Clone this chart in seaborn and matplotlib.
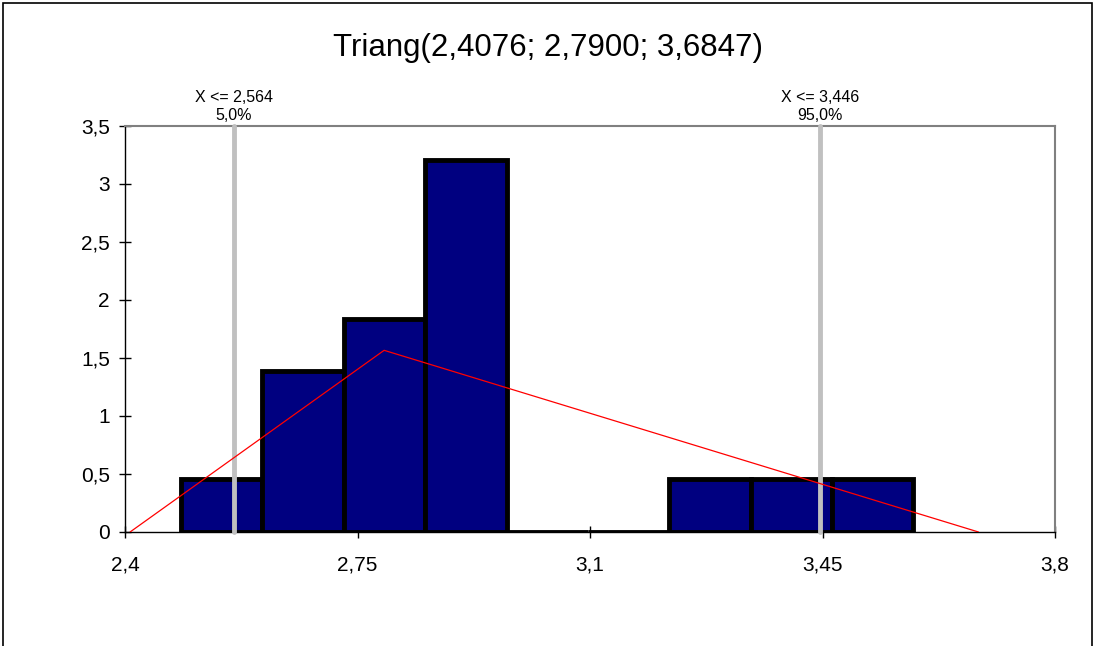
import numpy as np
import pandas as pd
import seaborn as sns
import matplotlib.pyplot as plt
from matplotlib.patches import Rectangle
from matplotlib.ticker import FuncFormatter

# histogram (density scale)
bin_edges = [2.4843, 2.6068, 2.7293, 2.8518, 2.9743, 3.0968, 3.2193, 3.3418, 3.4643, 3.5868]
bin_density = [0.454, 1.384, 1.832, 3.205, 0.0, 0.0, 0.454, 0.454, 0.454]

# fitted triangular distribution
tri_x = [2.4076, 2.79, 3.6847]
tri_y = [0.0, 1.566, 0.0]

# percentile markers
pct_x = [2.564, 3.446]
pct_labels = ["X <= 2,564\n5,0%", "X <= 3,446\n95,0%"]

title = "Triang(2,4076; 2,7900; 3,6847)"


def comma(v, pos):
    s = ("%.2f" % v).rstrip("0").rstrip(".")
    return s.replace(".", ",")


def main():
    sns.set_style("ticks")
    plt.rcParams['font.family'] = ['Liberation Sans', 'DejaVu Sans']
    plt.rcParams['text.color'] = 'black'

    fig = plt.figure(figsize=(10.96, 6.46), dpi=100)
    ax = fig.add_axes([0.1141, 0.1765, 0.9626 - 0.1141, 0.805 - 0.1765])

    centers = [(bin_edges[i] + bin_edges[i + 1]) / 2 for i in range(len(bin_density))]
    df = pd.DataFrame({"x": centers, "w": bin_density})
    sns.histplot(data=df, x="x", weights="w", bins=bin_edges, stat="count",
                 color="#000080", alpha=1, edgecolor="black", linewidth=3.5, ax=ax, zorder=2)

    sns.lineplot(x=tri_x, y=tri_y, color="red", linewidth=0.9, ax=ax, zorder=4)

    for px, lab in zip(pct_x, pct_labels):
        ax.plot([px, px], [0, 3.5], color="#c0c0c0", linewidth=3.5, zorder=3,
                solid_capstyle="round", clip_on=False)
        ax.annotate(lab, xy=(px, 1.0), xycoords=("data", "axes fraction"),
                    xytext=(0, 2), textcoords="offset points", color="black",
                    ha="center", va="bottom", fontsize=11.5, linespacing=1.25)

    ax.set_xlim(2.4, 3.8)
    ax.set_ylim(0, 3.5)
    ax.set_xticks([2.4, 2.75, 3.1, 3.45, 3.8])
    ax.set_yticks(np.arange(0, 3.51, 0.5))
    ax.xaxis.set_major_formatter(FuncFormatter(comma))
    ax.yaxis.set_major_formatter(FuncFormatter(comma))
    ax.set_xlabel("")
    ax.set_ylabel("")
    ax.tick_params(direction="inout", length=8, width=1, labelsize=15, colors="black")
    ax.tick_params(axis="x", pad=13)
    ax.tick_params(axis="y", pad=7)

    for side in ["top", "right"]:
        ax.spines[side].set_visible(True)
        ax.spines[side].set_color("#808080")
        ax.spines[side].set_linewidth(1.5)
    for side in ["left", "bottom"]:
        ax.spines[side].set_color("black")
        ax.spines[side].set_linewidth(1)

    fig.text(0.5, 1 - 48 / 646, title, ha="center", va="center", fontsize=22.5, color="black")

    # outer chart frame (bottom edge runs off the image)
    fig.patches.append(Rectangle((3 / 1096, -0.2), 1089 / 1096, 1.2 - 3 / 646,
                                 transform=fig.transFigure, fill=False,
                                 edgecolor="black", linewidth=1.2))

    fig.savefig("out.png", dpi=100)


if __name__ == "__main__":
    main()
